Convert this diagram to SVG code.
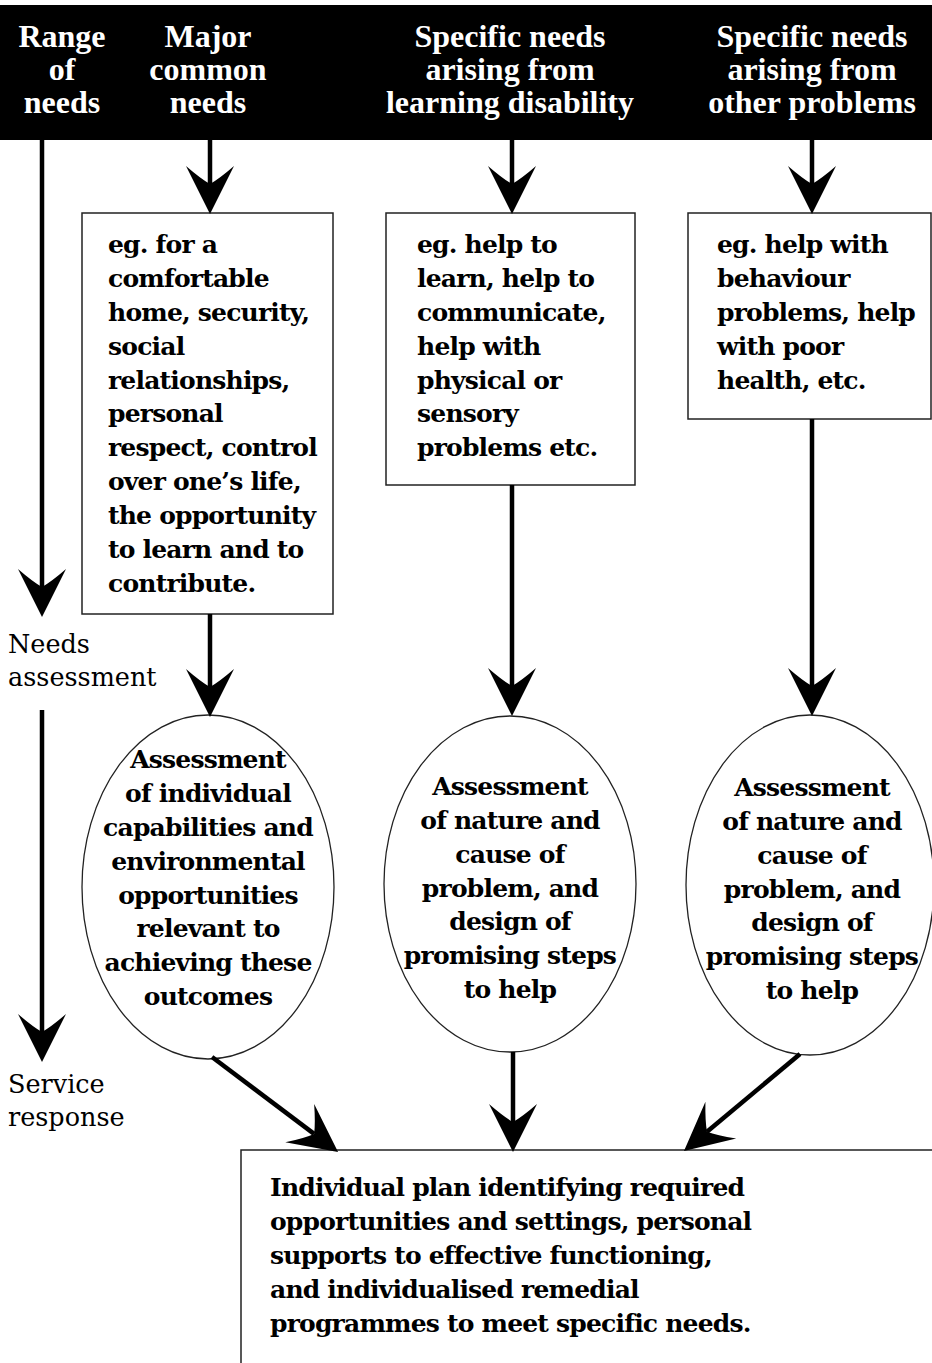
<svg xmlns="http://www.w3.org/2000/svg" width="932" height="1363" viewBox="0 0 932 1363">
  <style>
    .head { font-family: "Liberation Serif", "Times New Roman", serif; font-weight: bold; font-size: 32px; fill: #ffffff; text-anchor: middle; }
    .body { font-family: "DejaVu Serif", "Liberation Serif", serif; font-weight: bold; font-size: 25px; letter-spacing: -0.8px; fill: #000000; }
    .mid { text-anchor: middle; }
    .side { font-family: "DejaVu Serif", "Liberation Serif", serif; font-size: 25.5px; fill: #000000; }
    .box { fill: #ffffff; stroke: #222222; stroke-width: 1.5; }
    .oval { fill: #ffffff; stroke: #222222; stroke-width: 1.3; }
    .arrow { stroke: #000000; stroke-width: 4.5; fill: none; marker-end: url(#head); }
  </style>
  <defs>
    <marker id="head" markerUnits="userSpaceOnUse" markerWidth="60" markerHeight="60" refX="0" refY="0" orient="auto" overflow="visible">
      <path d="M30,0 L-18,-24 Q-5,-9 0,0 Q-5,9 -18,24 Z" fill="#000000"/>
    </marker>
  </defs>

  <rect width="932" height="1363" fill="#ffffff"/>

  <!-- header band -->
  <g id="header">
    <rect x="0" y="5" width="932" height="135" fill="#000000"/>
    <text class="head" x="62" y="47">Range</text>
    <text class="head" x="62" y="80">of</text>
    <text class="head" x="62" y="113">needs</text>
    <text class="head" x="208" y="47">Major</text>
    <text class="head" x="208" y="80">common</text>
    <text class="head" x="208" y="113">needs</text>
    <text class="head" x="510" y="47">Specific needs</text>
    <text class="head" x="510" y="80">arising from</text>
    <text class="head" x="510" y="113">learning disability</text>
    <text class="head" x="812" y="47">Specific needs</text>
    <text class="head" x="812" y="80">arising from</text>
    <text class="head" x="812" y="113">other problems</text>
  </g>

  <!-- stage labels on the left -->
  <g id="stage-labels">
    <text class="side" x="8" y="653">Needs</text>
    <text class="side" x="8" y="686">assessment</text>
    <text class="side" x="8" y="1093">Service</text>
    <text class="side" x="8" y="1126">response</text>
  </g>

  <g id="common-needs">
    <rect class="box" x="82" y="213" width="251" height="401"/>
    <text class="body" x="108" y="253">eg. for a</text>
    <text class="body" x="108" y="287">comfortable</text>
    <text class="body" x="108" y="321">home, security,</text>
    <text class="body" x="108" y="355">social</text>
    <text class="body" x="108" y="389">relationships,</text>
    <text class="body" x="108" y="422">personal</text>
    <text class="body" x="108" y="456">respect, control</text>
    <text class="body" x="108" y="490">over one’s life,</text>
    <text class="body" x="108" y="524">the opportunity</text>
    <text class="body" x="108" y="558">to learn and to</text>
    <text class="body" x="108" y="592">contribute.</text>
  </g>

  <g id="disability-needs">
    <rect class="box" x="386" y="213" width="249" height="272"/>
    <text class="body" x="417" y="253">eg. help to</text>
    <text class="body" x="417" y="287">learn, help to</text>
    <text class="body" x="417" y="321">communicate,</text>
    <text class="body" x="417" y="355">help with</text>
    <text class="body" x="417" y="389">physical or</text>
    <text class="body" x="417" y="422">sensory</text>
    <text class="body" x="417" y="456">problems etc.</text>
  </g>

  <g id="other-needs">
    <rect class="box" x="688" y="213" width="243" height="206"/>
    <text class="body" x="717" y="253">eg. help with</text>
    <text class="body" x="717" y="287">behaviour</text>
    <text class="body" x="717" y="321">problems, help</text>
    <text class="body" x="717" y="355">with poor</text>
    <text class="body" x="717" y="389">health, etc.</text>
  </g>

  <g id="assess-capabilities">
    <ellipse class="oval" cx="208" cy="887" rx="126" ry="172"/>
    <text class="body mid" x="208" y="768">Assessment</text>
    <text class="body mid" x="208" y="802">of individual</text>
    <text class="body mid" x="208" y="836">capabilities and</text>
    <text class="body mid" x="208" y="870">environmental</text>
    <text class="body mid" x="208" y="904">opportunities</text>
    <text class="body mid" x="208" y="937">relevant to</text>
    <text class="body mid" x="208" y="971">achieving these</text>
    <text class="body mid" x="208" y="1005">outcomes</text>
  </g>

  <g id="assess-disability">
    <ellipse class="oval" cx="510" cy="884" rx="126" ry="168"/>
    <text class="body mid" x="510" y="795">Assessment</text>
    <text class="body mid" x="510" y="829">of nature and</text>
    <text class="body mid" x="510" y="863">cause of</text>
    <text class="body mid" x="510" y="897">problem, and</text>
    <text class="body mid" x="510" y="930">design of</text>
    <text class="body mid" x="510" y="964">promising steps</text>
    <text class="body mid" x="510" y="998">to help</text>
  </g>

  <g id="assess-other">
    <ellipse class="oval" cx="810" cy="885" rx="124" ry="170"/>
    <text class="body mid" x="812" y="796">Assessment</text>
    <text class="body mid" x="812" y="830">of nature and</text>
    <text class="body mid" x="812" y="864">cause of</text>
    <text class="body mid" x="812" y="898">problem, and</text>
    <text class="body mid" x="812" y="931">design of</text>
    <text class="body mid" x="812" y="965">promising steps</text>
    <text class="body mid" x="812" y="999">to help</text>
  </g>

  <g id="individual-plan">
    <rect class="box" x="241" y="1150" width="700" height="230"/>
    <text class="body" x="270" y="1196">Individual plan identifying required</text>
    <text class="body" x="270" y="1230">opportunities and settings, personal</text>
    <text class="body" x="270" y="1264">supports to effective functioning,</text>
    <text class="body" x="270" y="1298">and individualised remedial</text>
    <text class="body" x="270" y="1332">programmes to meet specific needs.</text>
  </g>

  <g id="connectors">
    <line class="arrow" x1="42" y1="140" x2="42" y2="587"/>
    <line class="arrow" x1="42" y1="710" x2="42" y2="1032"/>
    <line class="arrow" x1="210" y1="140" x2="210" y2="184"/>
    <line class="arrow" x1="512" y1="140" x2="512" y2="184"/>
    <line class="arrow" x1="812" y1="140" x2="812" y2="184"/>
    <line class="arrow" x1="210" y1="614" x2="210" y2="687"/>
    <line class="arrow" x1="512" y1="485" x2="512" y2="686"/>
    <line class="arrow" x1="812" y1="419" x2="812" y2="686"/>
    <line class="arrow" x1="212" y1="1057" x2="314.1" y2="1133.9"/>
    <line class="arrow" x1="513" y1="1052" x2="513" y2="1122"/>
    <line class="arrow" x1="800" y1="1054" x2="707" y2="1131.7"/>
  </g>
</svg>
